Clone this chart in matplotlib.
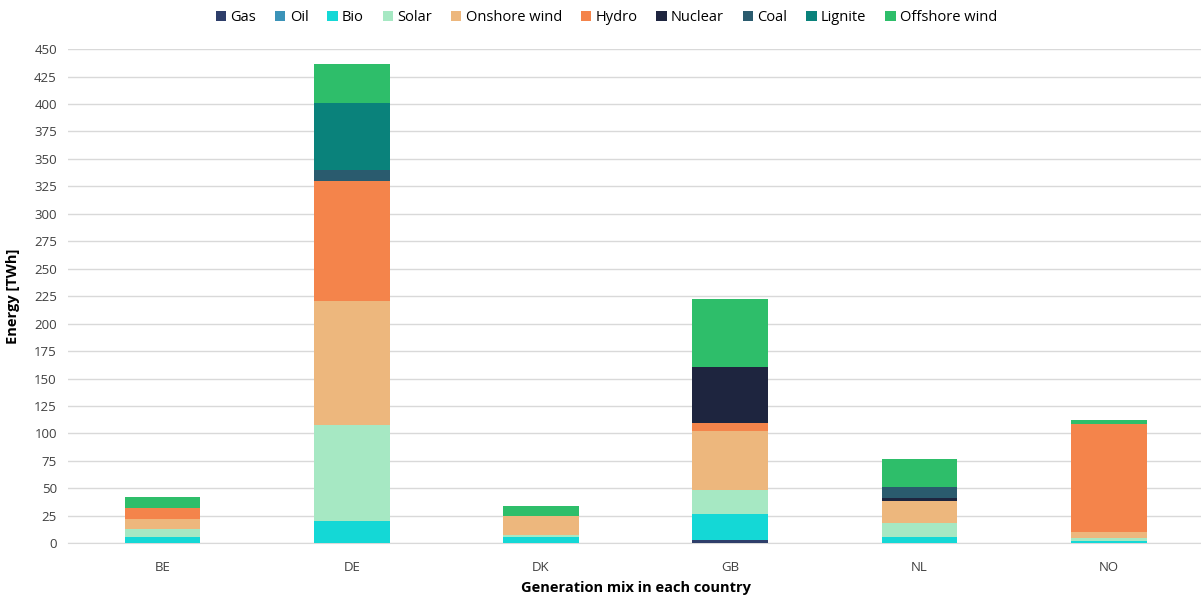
import matplotlib
matplotlib.use("Agg")
import matplotlib.pyplot as plt
import numpy as np

plt.rcParams['font.family'] = ['Open Sans', 'DejaVu Sans']

countries = ["BE", "DE", "DK", "GB", "NL", "NO"]
sources = ["Gas", "Oil", "Bio", "Solar", "Onshore wind", "Hydro",
           "Nuclear", "Coal", "Lignite", "Offshore wind"]
colors = ["#2E3E6A", "#3B93B8", "#14D8D6", "#A6E8C3", "#EDB77D", "#F4844B",
          "#1E253F", "#2A5B6E", "#0A827B", "#2EBE6A"]

gas      = [0.0, 0.0, 0.0, 3.4, 0.0, 0.0]
oil      = [0.0, 0.0, 0.0, 0.0, 0.0, 0.0]
bio      = [5.8, 20.0, 5.7, 23.3, 6.0, 2.5]
solar    = [7.0, 87.5, 2.1, 22.2, 12.1, 2.2]
onshore  = [9.1, 113.0, 16.7, 53.1, 20.7, 5.5]
hydro    = [10.6, 109.2, 0.0, 7.6, 0.0, 98.4]
nuclear  = [0.0, 0.0, 0.0, 50.7, 2.4, 0.0]
coal     = [0.0, 10.2, 0.0, 0.0, 10.3, 0.0]
lignite  = [0.0, 61.3, 0.0, 0.0, 0.0, 0.0]
offshore = [9.5, 35.6, 9.7, 62.0, 25.5, 3.3]

series = [gas, oil, bio, solar, onshore, hydro, nuclear, coal, lignite, offshore]

fig = plt.figure(figsize=(12.01, 5.99), dpi=100)
ax = fig.add_axes([0.0566, 0.093, 0.9453, 0.825])

x = np.arange(len(countries))
bottom = np.zeros(len(countries))
for name, vals, col in zip(sources, series, colors):
    vals = np.array(vals)
    ax.bar(x, vals, width=0.4, bottom=bottom, color=col, label=name, zorder=3)
    bottom += vals

ax.set_xlim(-0.5, 5.5)
ax.set_ylim(0, 450)
ax.set_yticks(np.arange(0, 451, 25))
ax.set_xticks(x)
ax.set_xticklabels(countries)
ax.tick_params(axis='both', length=0, labelsize=9.5, colors="#404040")
ax.tick_params(axis='y', pad=8)
ax.tick_params(axis='x', pad=13)
ax.yaxis.grid(True, color="#D9D9D9", linewidth=1, zorder=0)
for s in ["top", "right", "left"]:
    ax.spines[s].set_visible(False)
ax.spines["bottom"].set_color("#D9D9D9")

ax.set_ylabel("Energy [TWh]", fontsize=10.5, fontweight='bold', color="#000000", labelpad=10)
ax.set_xlabel("Generation mix in each country", fontsize=10.5, fontweight='bold', color="#000000", labelpad=5)

handles, labels = ax.get_legend_handles_labels()
fig.legend(handles, labels, loc="upper center", bbox_to_anchor=(0.505, 1.005), ncol=10,
           frameon=False, fontsize=10.5, handlelength=0.7, handleheight=0.7,
           handletextpad=0.3, columnspacing=1.3)

fig.savefig("out.png", dpi=100)
